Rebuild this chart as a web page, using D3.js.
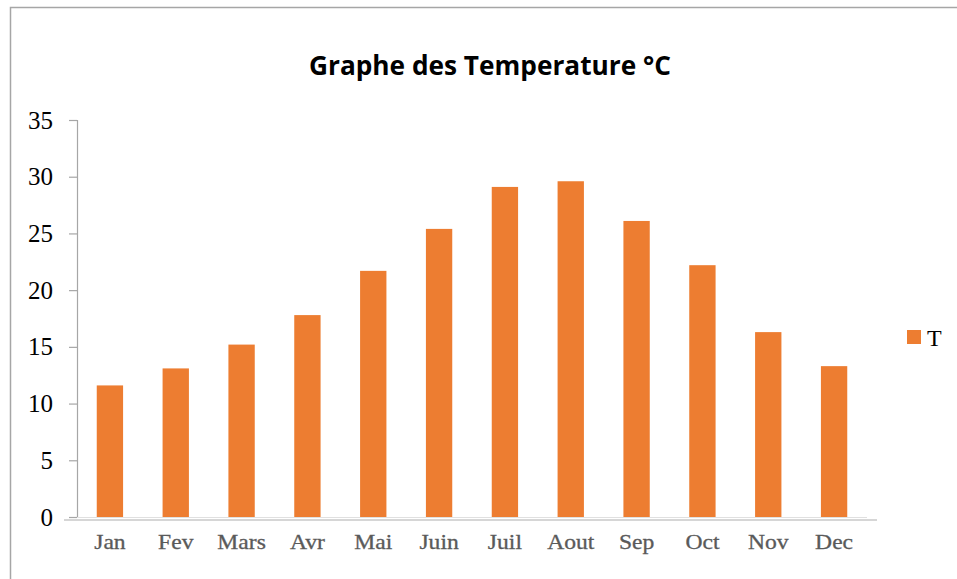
<!DOCTYPE html>
<html>
<head>
<meta charset="utf-8">
<script src="https://cdn.jsdelivr.net/npm/d3@7"></script>
<style>
  html, body { margin: 0; padding: 0; background: #fff; }
  svg { display: block; }
</style>
</head>
<body>
<svg id="chart" width="957" height="579"></svg>
<script>
const months = ["Jan", "Fev", "Mars", "Avr", "Mai", "Juin", "Juil", "Aout", "Sep", "Oct", "Nov", "Dec"];
const temps = [11.6, 13.1, 15.2, 17.8, 21.7, 25.4, 29.1, 29.6, 26.1, 22.2, 16.3, 13.3];
const yTicks = [0, 5, 10, 15, 20, 25, 30, 35];
const seriesName = "T";
const title = "Graphe des Temperature °C";

const svg = d3.select("#chart");
const W = 957, H = 579;
const barColor = "#ED7D31";

// frame
svg.append("rect").attr("x", 10.5).attr("y", 7.5).attr("width", W).attr("height", H)
  .attr("fill", "#fff").attr("stroke", "#a6a6a6").attr("stroke-width", 1.5);

const plot = { left: 77, right: 867, top: 120, bottom: 517 };

const x = d3.scaleBand().domain(months).range([plot.left, plot.right]).paddingInner(0.6).paddingOuter(0.3);
const y = d3.scaleLinear().domain([0, 35]).range([plot.bottom, plot.top]);

// title
svg.append("text").attr("x", 490).attr("y", 75).attr("text-anchor", "middle")
  .attr("font-family", "'Open Sans', 'Noto Sans', sans-serif").attr("font-weight", "bold")
  .attr("font-size", 26).attr("fill", "#000").attr("textLength", 362).attr("lengthAdjust", "spacingAndGlyphs")
  .text(title);

// bars
svg.append("g").selectAll("rect").data(temps).join("rect")
  .attr("x", (d, i) => x(months[i]))
  .attr("y", d => y(d))
  .attr("width", x.bandwidth())
  .attr("height", d => y(0) - y(d))
  .attr("fill", barColor);

// y axis
const yAxis = svg.append("g").attr("transform", `translate(${plot.left},0)`)
  .call(d3.axisLeft(y).tickValues(yTicks).tickSize(8).tickPadding(16));
yAxis.select(".domain").attr("stroke", "#a6a6a6").attr("stroke-width", 1.2);
yAxis.selectAll(".tick line").attr("stroke", "#a6a6a6").attr("stroke-width", 1.2);
yAxis.selectAll(".tick text").attr("font-family", "'Liberation Serif', 'Times New Roman', serif")
  .attr("font-size", 25).attr("fill", "#000");

// baseline lines
svg.append("line").attr("x1", plot.left).attr("x2", plot.right).attr("y1", y(0) + 0.5).attr("y2", y(0) + 0.5)
  .attr("stroke", "#e0e0e0").attr("stroke-width", 1);
svg.append("line").attr("x1", 64).attr("x2", 877).attr("y1", 520).attr("y2", 520)
  .attr("stroke", "#c8c8c8").attr("stroke-width", 1.5);

// x labels
const xAxis = svg.append("g").attr("transform", `translate(0,${plot.bottom})`)
  .call(d3.axisBottom(x).tickSize(0).tickPadding(18));
xAxis.select(".domain").remove();
xAxis.selectAll(".tick text").attr("font-family", "'Liberation Serif', 'Times New Roman', serif")
  .attr("font-size", 20).attr("fill", "#5a5a5a").attr("dy", "0.71em")
  .attr("stroke", "#5a5a5a").attr("stroke-width", 0.3)
  .attr("transform", "scale(1.18,1)");

// legend
const leg = svg.append("g").attr("transform", "translate(907,330)");
leg.append("rect").attr("width", 14).attr("height", 14).attr("fill", barColor);
leg.append("text").attr("x", 20).attr("y", 16).attr("font-family", "'Liberation Serif', 'Times New Roman', serif")
  .attr("font-size", 24).attr("fill", "#000").text(seriesName);
</script>
</body>
</html>
